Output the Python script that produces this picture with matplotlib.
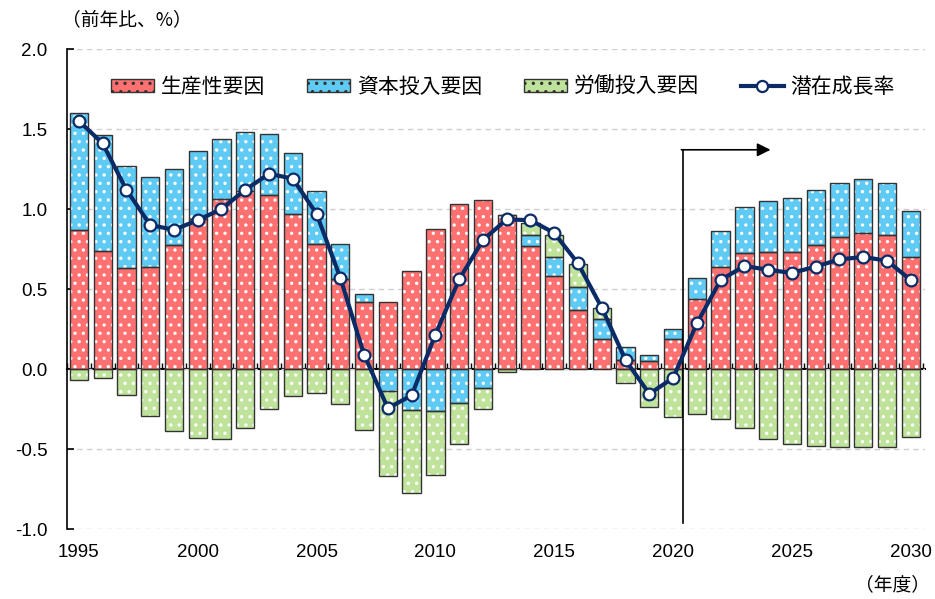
import matplotlib
matplotlib.use("Agg")
import matplotlib.pyplot as plt
import numpy as np

plt.rcParams['font.family'] = ['Liberation Sans', 'Noto Sans CJK JP', 'DejaVu Sans']
plt.rcParams['axes.unicode_minus'] = False
plt.rcParams['hatch.linewidth'] = 1.2

years = np.arange(1995, 2031)

# 生産性要因
productivity = [0.87, 0.74, 0.63, 0.64, 0.775, 0.94, 1.06, 1.11, 1.09, 0.97,
                0.78, 0.56, 0.42, 0.42, 0.615, 0.873, 1.03, 1.055, 0.96, 0.77,
                0.58, 0.37, 0.19, 0.055, 0.05, 0.19, 0.435, 0.638, 0.723, 0.73,
                0.73, 0.773, 0.825, 0.85, 0.835, 0.698]
# 資本投入要因
capital = [0.73, 0.72, 0.64, 0.56, 0.475, 0.42, 0.375, 0.37, 0.38, 0.38,
           0.33, 0.22, 0.05, -0.14, -0.255, -0.26, -0.21, -0.117, 0.0, 0.07,
           0.12, 0.14, 0.12, 0.085, 0.04, 0.058, 0.135, 0.225, 0.29, 0.32,
           0.34, 0.345, 0.34, 0.335, 0.33, 0.287]
# 労働投入要因
labor = [-0.07, -0.055, -0.16, -0.295, -0.39, -0.43, -0.44, -0.37, -0.25, -0.17,
         -0.15, -0.22, -0.38, -0.53, -0.52, -0.40, -0.26, -0.133, -0.02, 0.075,
         0.14, 0.145, 0.07, -0.085, -0.24, -0.30, -0.28, -0.31, -0.37, -0.436,
         -0.47, -0.483, -0.487, -0.49, -0.487, -0.427]
# 潜在成長率
potential = [1.55, 1.41, 1.12, 0.90, 0.87, 0.93, 1.00, 1.12, 1.22, 1.19,
             0.97, 0.57, 0.09, -0.245, -0.165, 0.215, 0.56, 0.806, 0.935, 0.93,
             0.85, 0.66, 0.383, 0.056, -0.155, -0.057, 0.285, 0.556, 0.644, 0.62,
             0.60, 0.64, 0.685, 0.70, 0.677, 0.556]

series = [("生産性要因", productivity, "#FF7070"),
          ("資本投入要因", capital, "#5FCBF5"),
          ("労働投入要因", labor, "#BFE39B")]

fig = plt.figure(figsize=(9.35, 5.99), dpi=100)
ax = fig.add_axes([67 / 935, 70 / 599, 858 / 935, 480 / 599])

width = 0.77
pos_base = np.zeros(len(years))
neg_base = np.zeros(len(years))
for name, vals, col in series:
    v = np.array(vals)
    base = np.where(v >= 0, pos_base, neg_base)
    ax.bar(years, v, width, bottom=base, color=col, edgecolor="white",
           linewidth=0, hatch="..", zorder=2)
    ax.bar(years, v, width, bottom=base, fill=False, edgecolor="#333333",
           linewidth=1.0, zorder=2.5)
    pos_base = pos_base + np.where(v > 0, v, 0)
    neg_base = neg_base + np.where(v < 0, v, 0)

ax.plot(years, potential, color="#0B2B66", lw=3, marker="o", ms=8.5,
        mfc="white", mec="#0B2B66", mew=1.6, zorder=4)

# projection arrow
ax.plot([2020.4, 2020.4], [-0.96, 1.37], color="black", lw=1.2, zorder=3)
ax.annotate("", xy=(2024.1, 1.37), xytext=(2020.35, 1.37),
            arrowprops=dict(arrowstyle="-|>", color="black", lw=1.2,
                            mutation_scale=20, shrinkA=0, shrinkB=0), zorder=3)

ax.set_xlim(1994.5, 2030.6)
ax.set_ylim(-1.0, 2.0)
ax.set_yticks(np.arange(-1.0, 2.01, 0.5))
ax.set_yticklabels([f"{t:.1f}" for t in np.arange(-1.0, 2.01, 0.5)])
ax.yaxis.grid(True, color="#CFCFCF", ls=(0, (4, 3)), lw=1)
ax.set_axisbelow(True)
for s in ["top", "right", "bottom"]:
    ax.spines[s].set_visible(False)
ax.spines["left"].set_linewidth(1.2)
ax.tick_params(axis="y", direction="in", length=5, width=1.2, labelsize=13.5, pad=14)
ax.set_xticks(np.arange(1995, 2031, 5))
ax.tick_params(axis="x", length=0, labelsize=13.5, pad=11)

# zero line with category ticks
sec = ax.secondary_xaxis(1 / 3)
sec.set_xticks(np.arange(1994.5, 2031, 1))
sec.set_xticklabels([])
sec.tick_params(direction="in", length=4, width=1)
sec.spines["bottom"].set_linewidth(1.5)

# legend
handles = [plt.Rectangle((0, 0), 1, 1, facecolor=c, edgecolor="#333333", lw=1,
                         hatch="..") for _, _, c in series]
handles.append(plt.Line2D([], [], color="#0B2B66", lw=3, marker="o", ms=8,
                          mfc="white", mec="#0B2B66", mew=1.6))
labels = [n for n, _, _ in series] + ["潜在成長率"]
leg = ax.legend(handles, labels, loc="center left", bbox_to_anchor=(0.029, 0.921),
                ncol=4, frameon=False, handlelength=2.1,
                handleheight=0.55, handletextpad=0.3, columnspacing=2.0,
                prop={"family": ["Noto Sans CJK JP"], "size": 15})

fig.text(62 / 935, 1 - 20 / 599, "（前年比、%）", fontsize=13.5, va="center",
         ha="left", family=["Noto Sans CJK JP"])
fig.text(930 / 935, 1 - 585 / 599, "（年度）", fontsize=13.5, va="center",
         ha="right", family=["Noto Sans CJK JP"])

fig.savefig("out.png", dpi=100)
